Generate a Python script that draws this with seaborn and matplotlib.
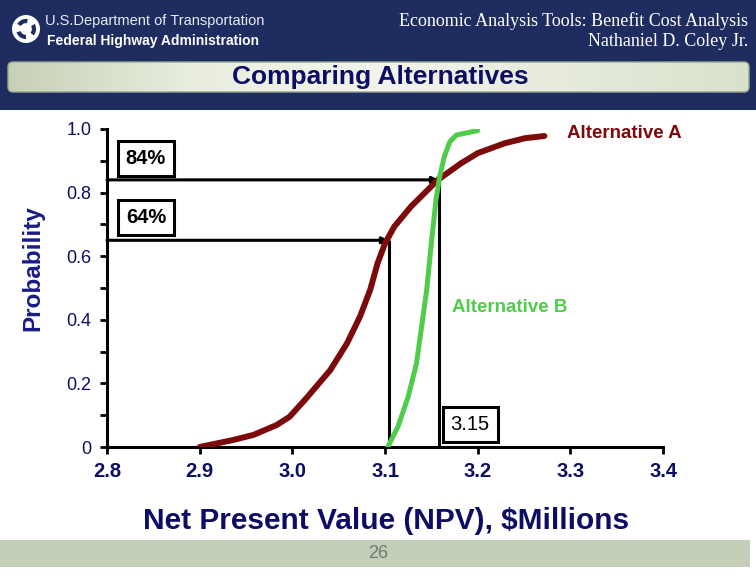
import numpy as np
import pandas as pd
import seaborn as sns
import matplotlib.pyplot as plt
from matplotlib.patches import Rectangle, FancyBboxPatch, Circle, Wedge
from matplotlib.colors import LinearSegmentedColormap

# ---------------------------
# Data
# ---------------------------
npv_a = [2.900, 2.936, 2.958, 2.983, 2.997, 3.015, 3.041, 3.059, 3.073, 3.084,
         3.092, 3.100, 3.110, 3.128, 3.157, 3.182, 3.200, 3.229, 3.251, 3.272]
prob_a = [0.000, 0.022, 0.038, 0.069, 0.095, 0.153, 0.242, 0.326, 0.410, 0.494,
          0.578, 0.640, 0.693, 0.756, 0.840, 0.892, 0.924, 0.955, 0.971, 0.978]

npv_b = [3.103, 3.114, 3.125, 3.134, 3.139, 3.145, 3.150, 3.155, 3.159, 3.164,
         3.170, 3.177, 3.200]
prob_b = [0.000, 0.064, 0.158, 0.263, 0.368, 0.494, 0.640, 0.777, 0.850, 0.913,
          0.960, 0.981, 0.995]

# reference read-offs (probability level, NPV where the curve crosses)
ref_prob = [0.84, 0.65]
ref_npv = [3.158, 3.104]
ref_labels = ["84%", "64%"]
npv_callout = "3.15"

x_ticks = [2.8, 2.9, 3.0, 3.1, 3.2, 3.3, 3.4]
y_ticks = [0, 0.2, 0.4, 0.6, 0.8, 1.0]
y_ticklabels = ["0", "0.2", "0.4", "0.6", "0.8", "1.0"]

df_a = pd.DataFrame({"NPV": npv_a, "Probability": prob_a})
df_b = pd.DataFrame({"NPV": npv_b, "Probability": prob_b})

# ---------------------------
# Style
# ---------------------------
sns.set_theme(style="white")
plt.rcParams["font.family"] = ["Liberation Sans", "DejaVu Sans"]

NAVY = "#1f2c60"
TXT = "#0d0d66"
RED = "#7d0a0a"
GREEN = "#4fcc4a"

W, H = 756, 576
fig = plt.figure(figsize=(W / 100, H / 100), dpi=100)
fig.patch.set_facecolor("white")

# background layer in pixel coordinates
bg = fig.add_axes([0, 0, 1, 1], zorder=0)
bg.set_xlim(0, W)
bg.set_ylim(H, 0)
bg.axis("off")

bg.add_patch(Rectangle((0, 0), W, 110, color=NAVY, lw=0, zorder=1))

# logo
cx, cy, r = 26, 29, 14
bg.add_patch(Circle((cx, cy), r, color="white", lw=0, zorder=2))
for ang in (90, 210, 330):
    bg.add_patch(Wedge((cx, cy), r * 0.72, ang, ang + 70, width=r * 0.3,
                       color=NAVY, lw=0, zorder=3))
bg.text(45, 21, "U.S.Department of Transportation", color="#e8ecf4",
        fontsize=10.5, va="center", ha="left", zorder=3)
bg.text(47, 41, "Federal Highway Administration", color="white",
        fontsize=10, fontweight="bold", va="center", ha="left", zorder=3)

bg.text(748, 21, "Economic Analysis Tools: Benefit Cost Analysis", color="white",
        fontsize=13, family=["Liberation Serif", "DejaVu Serif"],
        va="center", ha="right", zorder=3)
bg.text(748, 42, "Nathaniel D. Coley Jr.", color="white",
        fontsize=13, family=["Liberation Serif", "DejaVu Serif"],
        va="center", ha="right", zorder=3)

# title bar with a soft gradient
bar = FancyBboxPatch((8, 62), 741, 30, boxstyle="round,pad=0,rounding_size=5",
                     fc="none", ec="#9aa58d", lw=1, zorder=4)
bg.add_patch(bar)
cmap = LinearSegmentedColormap.from_list(
    "bar", ["#c6d1b6", "#e9eee0", "#f3f5ec", "#e6ebdc", "#d9e1cc"])
grad = np.linspace(0, 1, 256).reshape(1, -1)
im = bg.imshow(grad, cmap=cmap, extent=[8, 749, 92, 62], aspect="auto",
               zorder=3, interpolation="bilinear")
im.set_clip_path(bar)
bg.set_xlim(0, W)
bg.set_ylim(H, 0)
bg.text(380, 77, "Comparing Alternatives", color=TXT, fontsize=19,
        fontweight="bold", ha="center", va="center", zorder=5)

# footer
bg.add_patch(Rectangle((0, 540), 750, 27, color="#c3cfb9", lw=0, zorder=1))
bg.text(378, 553, "26", color="#6e7b6e", fontsize=13, ha="center", va="center",
        zorder=3)

# ---------------------------
# Chart
# ---------------------------
L, R, T, B = 107, 663, 129, 447
ax = fig.add_axes([L / W, (H - B) / H, (R - L) / W, (B - T) / H], zorder=1)
ax.patch.set_alpha(0)

sns.lineplot(data=df_a, x="NPV", y="Probability", sort=False, color=RED,
             lw=4.3, ax=ax, zorder=3)
sns.lineplot(data=df_b, x="NPV", y="Probability", sort=False, color=GREEN,
             lw=3.6, ax=ax, zorder=4)
for ln in ax.get_lines():
    ln.set_solid_joinstyle("round")

ax.set_xlim(2.8, 3.4)
ax.set_ylim(0, 1.0)

# read-off lines
for p, v, lab, yb in zip(ref_prob, ref_npv, ref_labels, [0.906, 0.723]):
    ax.annotate("", xy=(v, p), xytext=(2.8, p),
                arrowprops=dict(arrowstyle="-|>", color="black", lw=2.2,
                                mutation_scale=9, shrinkA=0, shrinkB=0),
                zorder=2)
    ax.plot([v, v], [p, 0], color="black", lw=2.2, zorder=2,
            solid_capstyle="butt")
    ax.text(2.842, yb, lab, fontsize=14.5, fontweight="bold", color="black",
            ha="center", va="center",
            bbox=dict(boxstyle="square,pad=0.4", fc="white", ec="black", lw=2.2))

ax.text(3.192, 0.072, npv_callout, fontsize=14.5, color="black",
        ha="center", va="center",
        bbox=dict(boxstyle="square,pad=0.4", fc="white", ec="black", lw=2.2))

ax.text(3.296, 0.987, "Alternative A", color=RED, fontsize=13.5,
        fontweight="bold", ha="left", va="center")
ax.text(3.172, 0.44, "Alternative B", color=GREEN, fontsize=13.5,
        fontweight="bold", ha="left", va="center")

# axes styling
for s in ("top", "right"):
    ax.spines[s].set_visible(False)
for s in ("left", "bottom"):
    ax.spines[s].set_color("black")
    ax.spines[s].set_linewidth(2.2)

ax.set_xticks(x_ticks)
ax.set_xticklabels([f"{t:.1f}" for t in x_ticks], fontsize=14.5,
                   fontweight="bold", color=TXT)
ax.set_yticks(y_ticks)
ax.set_yticklabels(y_ticklabels, fontsize=13, color=TXT)
ax.set_yticks([0.1, 0.3, 0.5, 0.7, 0.9], minor=True)
ax.tick_params(axis="both", which="both", direction="out", length=5,
               width=2, color="black", left=True, bottom=True)
ax.tick_params(axis="x", pad=6)
ax.tick_params(axis="y", pad=6)

ax.set_xlabel("Net Present Value (NPV), $Millions", fontsize=21.5,
              fontweight="bold", color=TXT, va="center")
ax.xaxis.set_label_coords((386 - L) / (R - L), (B - 521) / (B - T))
ax.set_ylabel("Probability", fontsize=17.5, fontweight="bold",
              color="#1a1a88", va="center")
ax.yaxis.set_label_coords((33 - L) / (R - L), (B - 268) / (B - T))

fig.savefig("out.png", dpi=100)
